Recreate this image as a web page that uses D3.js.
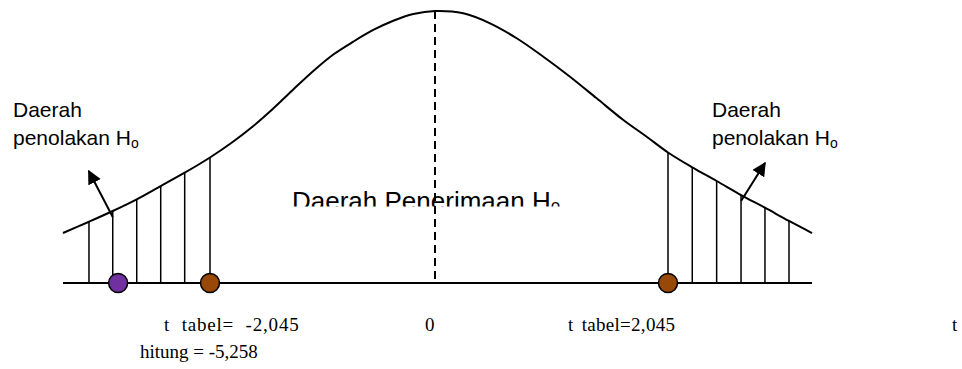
<!DOCTYPE html>
<html>
<head>
<meta charset="utf-8">
<script src="https://cdn.jsdelivr.net/npm/d3@7"></script>
<style>
  body { margin: 0; background: #fff; }
  svg { display: block; }
</style>
</head>
<body>
<div id="chart"></div>
<script>
// t values along the drawn curve and the curve height
const curveT = [-3.381, -3.145, -2.929, -2.711, -2.493, -2.275, -2.045, -1.833, -1.651, -1.47, -1.288, -1.106, -0.924, -0.743, -0.561, -0.379, -0.197, 0,
                0.248, 0.483, 0.717, 0.951, 1.185, 1.419, 1.653, 1.858, 2.045, 2.258, 2.472, 2.686, 2.896, 3.107, 3.309];
const curveDensity = [0.0735, 0.0901, 0.1059, 0.1231, 0.1426, 0.1622, 0.1846, 0.2081, 0.2309, 0.2566, 0.2846, 0.3118, 0.336, 0.3549, 0.3721, 0.3857, 0.3956, 0.4,
                      0.3966, 0.3819, 0.3599, 0.3328, 0.3034, 0.2716, 0.2397, 0.2151, 0.1919, 0.1701, 0.15, 0.1294, 0.1107, 0.0912, 0.0735];

// hatching in the rejection areas
const hatchLeft = [-3.145, -2.929, -2.711, -2.493, -2.275, -2.045];
const hatchRight = [2.045, 2.258, 2.472, 2.686, 2.896, 3.107];

// points on the axis (t hitung is not drawn to scale in the original)
const pointValues = [-5.258, -2.045, 2.045];
const pointPlotAt = [-2.88, -2.045, 2.045];
const pointColors = ["#7030a0", "#984807", "#984807"];

const tTabel = 2.045;
const tHitung = -5.258;

const width = 962, height = 369;
const baseY = 283;

const x = d3.scaleLinear().domain([-tTabel, 0, tTabel]).range([210, 435, 668]);
const y = d3.scaleLinear().domain([0, 0.4]).range([baseY, 11]);

const curve = curveT.map((t, i) => [t, curveDensity[i]]);
const curveAt = t => {
    let i = d3.bisector(d => d[0]).left(curve, t);
    if (i <= 0) return curve[0][1];
    if (i >= curve.length) return curve[curve.length - 1][1];
    let a = curve[i - 1], b = curve[i];
    return a[1] + (b[1] - a[1]) * (t - a[0]) / (b[0] - a[0]);
};

const svg = d3.select("#chart").append("svg")
    .attr("width", width)
    .attr("height", height);

const defs = svg.append("defs");
defs.append("marker")
    .attr("id", "arrow")
    .attr("viewBox", "0 0 10 10")
    .attr("refX", 9).attr("refY", 5)
    .attr("markerWidth", 7).attr("markerHeight", 7)
    .attr("markerUnits", "strokeWidth")
    .attr("orient", "auto")
    .append("path")
    .attr("d", "M0,0 L10,5 L0,10 z")
    .attr("fill", "#000");

defs.append("clipPath")
    .attr("id", "clipLabel")
    .append("rect")
    .attr("x", 0).attr("y", 150).attr("width", width).attr("height", 56.5);

// label of the acceptance area (cut off at the bottom, as in the original)
const mid = svg.append("text")
    .attr("clip-path", "url(#clipLabel)")
    .attr("x", 292).attr("y", 210)
    .attr("font-family", "Liberation Sans, Arial, sans-serif")
    .attr("font-size", 26)
    .attr("fill", "#000");
mid.append("tspan").text("Daerah Penerimaan H");
mid.append("tspan").attr("font-size", 17).attr("dy", 4).text("0");

// baseline
svg.append("line")
    .attr("x1", x(curveT[0])).attr("x2", x(curveT[curveT.length - 1]))
    .attr("y1", baseY).attr("y2", baseY)
    .attr("stroke", "#000").attr("stroke-width", 2);

// hatching
svg.append("g").selectAll("line")
    .data(hatchLeft.concat(hatchRight))
    .join("line")
    .attr("x1", d => x(d)).attr("x2", d => x(d))
    .attr("y1", baseY).attr("y2", d => y(curveAt(d)))
    .attr("stroke", "#000").attr("stroke-width", 1.5);

// curve
svg.append("path")
    .datum(curve)
    .attr("d", d3.line().x(d => x(d[0])).y(d => y(d[1])).curve(d3.curveCatmullRom.alpha(0.5)))
    .attr("fill", "none")
    .attr("stroke", "#000")
    .attr("stroke-width", 2);

// centre line
svg.append("line")
    .attr("x1", x(0)).attr("x2", x(0))
    .attr("y1", y(curveAt(0))).attr("y2", baseY)
    .attr("stroke", "#000").attr("stroke-width", 2)
    .attr("stroke-dasharray", "8,5");

// arrows out of the rejection areas
const arrows = [
    {from: hatchLeft[1], dx: -24, dy: -46},
    {from: hatchRight[3], dx: 24, dy: -38}
];
svg.append("g").selectAll("line")
    .data(arrows)
    .join("line")
    .attr("x1", d => x(d.from))
    .attr("y1", d => y(curveAt(d.from)) + 6)
    .attr("x2", d => x(d.from) + d.dx)
    .attr("y2", d => y(curveAt(d.from)) + 6 + d.dy)
    .attr("stroke", "#000").attr("stroke-width", 2)
    .attr("marker-end", "url(#arrow)");

// points on the axis
svg.append("g").selectAll("circle")
    .data(pointPlotAt)
    .join("circle")
    .attr("cx", d => x(d))
    .attr("cy", baseY)
    .attr("r", 9.5)
    .attr("fill", (d, i) => pointColors[i])
    .attr("stroke", "#000").attr("stroke-width", 1.5);

// rejection area labels
const sideLabel = (px, py) => {
    let t = svg.append("text")
        .attr("font-family", "Liberation Sans, Arial, sans-serif")
        .attr("font-size", 21)
        .attr("fill", "#000");
    t.append("tspan").attr("x", px).attr("y", py).text("Daerah");
    t.append("tspan").attr("x", px).attr("y", py + 28).text("penolakan H");
    t.append("tspan").attr("font-size", 14).attr("dy", 3).text("o");
};
sideLabel(13, 117);
sideLabel(712, 117);

// t labels under the axis
const fmt = v => d3.format(".3f")(v).replace("\u2212", "-").replace(".", ",");
const bottom = svg.append("g")
    .attr("font-family", "Liberation Serif, Times New Roman, serif")
    .attr("font-size", 19)
    .attr("fill", "#000");
bottom.append("text").attr("x", 164).attr("y", 331)
    .attr("letter-spacing", 0.8).attr("word-spacing", 6)
    .text("t tabel= " + fmt(-tTabel));
bottom.append("text").attr("x", 425).attr("y", 331).text("0");
bottom.append("text").attr("x", 568).attr("y", 331)
    .attr("letter-spacing", 0.3).attr("word-spacing", 3)
    .text("t tabel=" + fmt(tTabel));
bottom.append("text").attr("x", 952).attr("y", 331).text("t");
bottom.append("text").attr("x", 140).attr("y", 358).text("hitung = " + fmt(tHitung));
</script>
</body>
</html>
